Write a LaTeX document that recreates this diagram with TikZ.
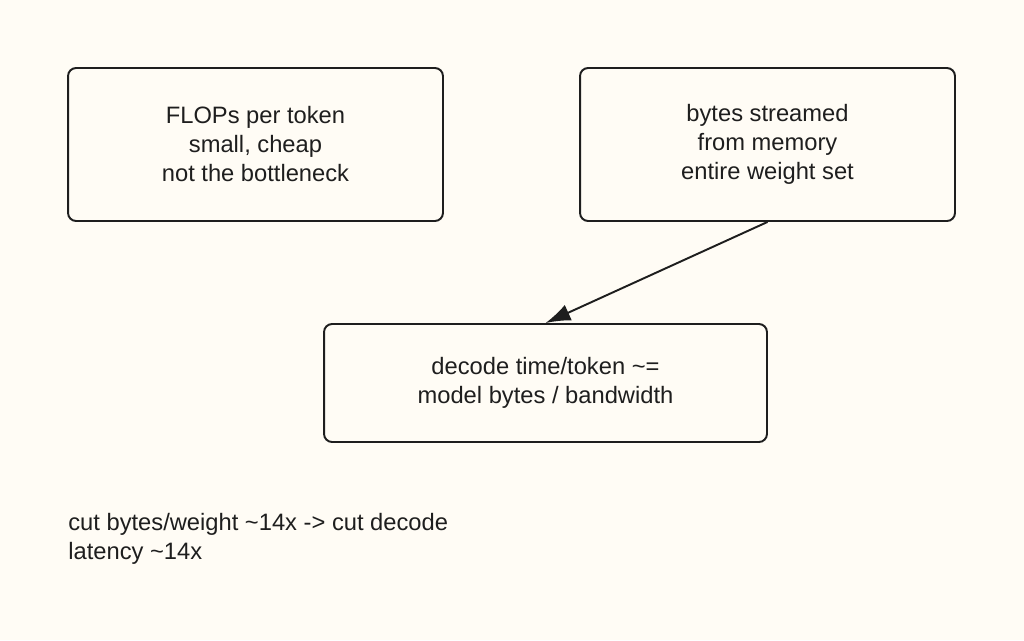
\documentclass[tikz,border=0pt]{standalone}
\usepackage{fontspec}
\setmainfont{Liberation Sans}
\usetikzlibrary{arrows.meta}
\definecolor{paper}{HTML}{FFFCF5}
\definecolor{ink}{HTML}{1E1E1E}
\tikzset{
  box/.style={draw=ink, line width=1.1pt, rounded corners=0.16cm, align=center,
    font=\fontsize{13.5}{16.5}\selectfont, text=ink, inner sep=0pt},
  note/.style={align=left, anchor=north west, font=\fontsize{13.5}{16.5}\selectfont, text=ink, inner sep=0pt}
}
\begin{document}
\begin{tikzpicture}[x=0.02cm,y=-0.02cm]
  \fill[paper] (0,0) rectangle (1024,640);
  \useasboundingbox (0,0) rectangle (1024,640);

  \node[box, minimum width=7.5cm, minimum height=3.06cm] (flops) at (255.5,144.5)
    {FLOPs per token\\small, cheap\\not the bottleneck};
  \node[box, minimum width=7.5cm, minimum height=3.06cm] (bytes) at (767.5,144.5)
    {bytes streamed\\from memory\\entire weight set};
  \node[box, minimum width=8.86cm, minimum height=2.36cm] (decode) at (545.5,383)
    {decode time/token \textasciitilde=\\model bytes / bandwidth};

  \draw[-{Latex[length=0.5cm,width=0.34cm]}, line width=1.1pt, ink] (bytes.south) -- (decode.north);

  \node[note] (cut) at (68,513) {cut bytes/weight \textasciitilde14x -> cut decode\\latency \textasciitilde14x};
\end{tikzpicture}
\end{document}
